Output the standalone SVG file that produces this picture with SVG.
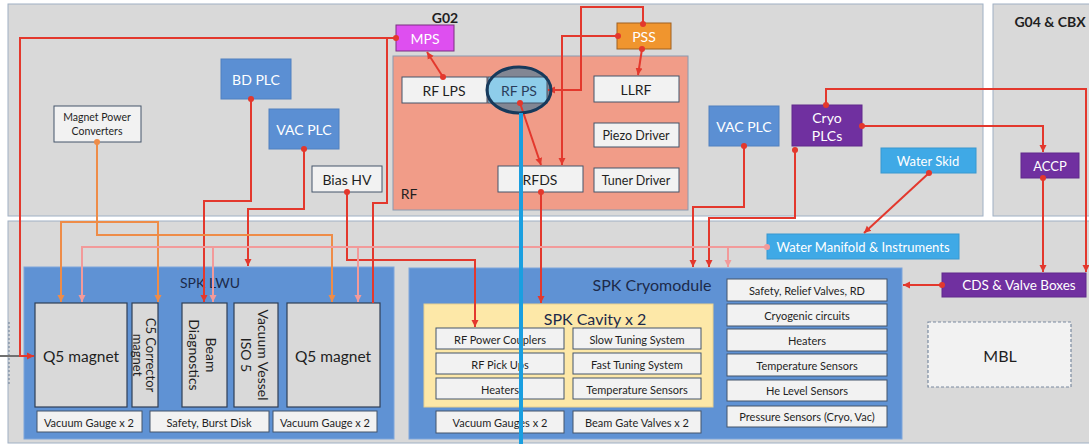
<svg xmlns="http://www.w3.org/2000/svg" width="1089" height="444" viewBox="0 0 1089 444">
<style>
text{font-family:Lato,"Open Sans","Liberation Sans",sans-serif;text-anchor:middle;dominant-baseline:central}
.region{fill:#d9d9d9;stroke:#9fb0c4;stroke-width:1}
.wbox{fill:#f2f2f2;stroke:#44546a;stroke-width:1}
.blue{fill:#5b8fd3;stroke:#5080c0;stroke-width:1}
.lblue{fill:#3fa9e6;stroke:#3898d0;stroke-width:1}
.purple{fill:#7030a0;stroke:#60288c;stroke-width:1}
.gbox{fill:#d9d9d9;stroke:#2f3f55;stroke-width:1.2}
.cont{fill:#5f92d4;stroke:#7ea6dc;stroke-width:1}
.wt{fill:#ffffff}
.dk{fill:#1f1f1f}
.nv{fill:#1c2a4a}
.red{fill:none;stroke:#e3382d;stroke-width:2}
.org{fill:none;stroke:#ee8c48;stroke-width:2}
.pnk{fill:none;stroke:#f29a9a;stroke-width:2}
</style>
<defs>
<marker id="arR" markerUnits="userSpaceOnUse" markerWidth="8" markerHeight="8" refX="7" refY="4" orient="auto"><path d="M0,0.5 L7,4 L0,7.5 z" fill="#e3382d"/></marker>
<marker id="arO" markerUnits="userSpaceOnUse" markerWidth="8" markerHeight="8" refX="7" refY="4" orient="auto"><path d="M0,0.5 L7,4 L0,7.5 z" fill="#ee8c48"/></marker>
<marker id="arP" markerUnits="userSpaceOnUse" markerWidth="8" markerHeight="8" refX="7" refY="4" orient="auto"><path d="M0,0.5 L7,4 L0,7.5 z" fill="#f29a9a"/></marker>
<marker id="dR" markerUnits="userSpaceOnUse" markerWidth="8" markerHeight="8" refX="4" refY="4"><circle cx="4" cy="4" r="3" fill="#e3382d"/></marker>
<marker id="dO" markerUnits="userSpaceOnUse" markerWidth="8" markerHeight="8" refX="4" refY="4"><circle cx="4" cy="4" r="3" fill="#ee8c48"/></marker>
<marker id="dP" markerUnits="userSpaceOnUse" markerWidth="8" markerHeight="8" refX="4" refY="4"><circle cx="4" cy="4" r="3" fill="#f29a9a"/></marker>
</defs>
<rect x="0" y="0" width="1089" height="444" fill="#ffffff"/>
<g id="regions">
<rect class="region" x="8" y="4" width="975" height="212"/>
<rect class="region" x="993" y="4" width="100" height="212"/>
<rect class="region" x="8" y="221" width="1085" height="222"/>
<line x1="9" y1="322" x2="9" y2="385" stroke="#7a8aa0" stroke-width="1.2" stroke-dasharray="2,2"/>
<line x1="0" y1="356" x2="19" y2="356" stroke="#707070" stroke-width="2"/>
<text x="445" y="17" class="dk" font-size="14" font-weight="bold">G02</text>
<text x="1050" y="21" class="dk" font-size="14" font-weight="bold">G04 &amp; CBX</text>
</g>
<g id="rf-area">
<rect x="393" y="56" width="295" height="154" fill="#f19c88" stroke="#8a9ab0" stroke-width="1"/>
<text x="409" y="193" class="dk" font-size="14">RF</text>
</g>
<g id="mps"><rect x="396" y="25" width="58" height="26" fill="#de4ff0" stroke="#7a3080" stroke-width="1"/><text x="425" y="38" class="wt" font-size="14">MPS</text></g>
<g id="pss"><rect x="617" y="23" width="54" height="26" fill="#f0952e" stroke="#a06020" stroke-width="1"/><text x="644" y="36" class="wt" font-size="14">PSS</text></g>
<g id="rf-lps"><rect class="wbox" x="402" y="77" width="85" height="26"/><text x="444" y="90" class="dk" font-size="14">RF LPS</text></g>
<g id="rf-ps">
<ellipse cx="519" cy="90" rx="32" ry="23" fill="#6f8395" opacity="0.85"/>
<rect x="488" y="77" width="59" height="26" fill="#8ecdea" stroke="#44546a" stroke-width="1"/>
<text x="519" y="90" fill="#2a3c5a" font-size="14">RF PS</text>
</g>
<g id="llrf"><rect class="wbox" x="594" y="76" width="85" height="26"/><text x="636" y="89" class="dk" font-size="14">LLRF</text></g>
<g id="piezo"><rect class="wbox" x="594" y="123" width="85" height="24"/><text x="636" y="135" class="dk" font-size="12.5">Piezo Driver</text></g>
<g id="tuner"><rect class="wbox" x="594" y="168" width="85" height="24"/><text x="636" y="180" class="dk" font-size="12.5">Tuner Driver</text></g>
<g id="rfds"><rect class="wbox" x="498" y="166" width="85" height="26"/><text x="540" y="179" class="dk" font-size="14">RFDS</text></g>
<g id="mpc"><rect class="wbox" x="54" y="106" width="87" height="36"/><text x="97" y="117" class="dk" font-size="10.5">Magnet Power</text><text x="97" y="131" class="dk" font-size="10.5">Converters</text></g>
<g id="bd-plc"><rect class="blue" x="221" y="59" width="70" height="40"/><text x="256" y="79" class="wt" font-size="14">BD PLC</text></g>
<g id="vac-plc-1"><rect class="blue" x="269" y="109" width="70" height="40"/><text x="304" y="129" class="wt" font-size="14">VAC PLC</text></g>
<g id="bias-hv"><rect class="wbox" x="312" y="166" width="70" height="26"/><text x="347" y="179" class="dk" font-size="14">Bias HV</text></g>
<g id="vac-plc-2"><rect class="blue" x="709" y="106" width="70" height="40"/><text x="744" y="126" class="wt" font-size="14">VAC PLC</text></g>
<g id="cryo-plcs"><rect class="purple" x="792" y="105" width="70" height="41"/><text x="827" y="117" class="wt" font-size="14">Cryo</text><text x="827" y="135" class="wt" font-size="14">PLCs</text></g>
<g id="water-skid"><rect class="lblue" x="881" y="148" width="95" height="25"/><text x="928" y="161" class="wt" font-size="13">Water Skid</text></g>
<g id="accp"><rect class="purple" x="1021" y="153" width="58" height="25"/><text x="1050" y="166" class="wt" font-size="13">ACCP</text></g>
<g id="water-manifold"><rect class="lblue" x="767" y="234" width="192" height="25"/><text x="863" y="247" class="wt" font-size="13">Water Manifold &amp; Instruments</text></g>
<g id="cds"><rect class="purple" x="942" y="273" width="144" height="24"/><text x="1019" y="285" class="wt" font-size="13.5">CDS &amp; Valve Boxes</text></g>
<g id="mbl"><rect x="928" y="322" width="143" height="65" fill="#f2f2f2" stroke="#7a8aa0" stroke-width="1.2" stroke-dasharray="3,2"/><text x="1000" y="355" class="dk" font-size="16">MBL</text></g>
<g id="spk-lwu">
<rect class="cont" x="24" y="267" width="370" height="172"/>
<text x="210" y="282" class="nv" font-size="14">SPK LWU</text>
</g>
<g id="q5-left"><rect class="gbox" x="35" y="303" width="92" height="104"/><text x="81" y="356" class="dk" font-size="15.5">Q5 magnet</text></g>
<g id="c5"><rect class="gbox" x="132" y="303" width="26" height="104"/><text transform="translate(145,355) rotate(90)" class="dk" font-size="13"><tspan x="0" y="-6">C5 Corrector</tspan><tspan x="0" y="7">magnet</tspan></text></g>
<g id="beam-diag"><rect class="gbox" x="182" y="303" width="45" height="104"/><text transform="translate(204,355) rotate(90)" class="dk" font-size="14"><tspan x="0" y="-8">Beam</tspan><tspan x="0" y="9">Diagnostics</tspan></text></g>
<g id="vac-vessel"><rect class="gbox" x="234" y="303" width="44" height="104"/><text transform="translate(256,355) rotate(90)" class="dk" font-size="14"><tspan x="0" y="-8">Vacuum Vessel</tspan><tspan x="0" y="9">ISO 5</tspan></text></g>
<g id="q5-right"><rect class="gbox" x="287" y="303" width="93" height="104"/><text x="333" y="356" class="dk" font-size="15.5">Q5 magnet</text></g>
<g id="lwu-vg1"><rect class="wbox" x="37" y="411" width="105" height="21"/><text x="89" y="422" class="dk" font-size="11">Vacuum Gauge x 2</text></g>
<g id="lwu-safety"><rect class="wbox" x="150" y="411" width="119" height="21"/><text x="209" y="422" class="dk" font-size="11">Safety, Burst Disk</text></g>
<g id="lwu-vg2"><rect class="wbox" x="273" y="411" width="104" height="21"/><text x="325" y="422" class="dk" font-size="11">Vacuum Gauge x 2</text></g>
<g id="spk-cryomodule">
<rect class="cont" x="409" y="268" width="493" height="171"/>
<text x="652" y="284" class="nv" font-size="16">SPK Cryomodule</text>
</g>
<g id="spk-cavity">
<rect x="424" y="304" width="289" height="103" fill="#fde8a8" stroke="#e8d090" stroke-width="1"/>
<text x="595" y="318" class="nv" font-size="16">SPK Cavity x 2</text>
</g>
<g id="cav-rfpc"><rect class="wbox" x="436" y="328" width="128" height="21"/><text x="500" y="339" class="dk" font-size="11">RF Power Couplers</text></g>
<g id="cav-slow"><rect class="wbox" x="573" y="328" width="128" height="21"/><text x="637" y="339" class="dk" font-size="11">Slow Tuning System</text></g>
<g id="cav-rfpu"><rect class="wbox" x="436" y="353" width="128" height="21"/><text x="500" y="364" class="dk" font-size="11">RF Pick Ups</text></g>
<g id="cav-fast"><rect class="wbox" x="573" y="353" width="128" height="21"/><text x="637" y="364" class="dk" font-size="11">Fast Tuning System</text></g>
<g id="cav-heat"><rect class="wbox" x="436" y="378" width="128" height="21"/><text x="500" y="389" class="dk" font-size="11">Heaters</text></g>
<g id="cav-temp"><rect class="wbox" x="573" y="378" width="128" height="21"/><text x="637" y="389" class="dk" font-size="11">Temperature Sensors</text></g>
<g id="cm-vg"><rect class="wbox" x="436" y="411" width="128" height="22"/><text x="500" y="422" class="dk" font-size="11">Vacuum Gauges x 2</text></g>
<g id="cm-bgv"><rect class="wbox" x="573" y="411" width="128" height="22"/><text x="637" y="422" class="dk" font-size="11">Beam Gate Valves x 2</text></g>
<g id="cm-safety"><rect class="wbox" x="727" y="279" width="160" height="22"/><text x="807" y="290" class="dk" font-size="11">Safety, Relief Valves, RD</text></g>
<g id="cm-cryo"><rect class="wbox" x="727" y="304" width="160" height="22"/><text x="807" y="315" class="dk" font-size="11">Cryogenic circuits</text></g>
<g id="cm-heat"><rect class="wbox" x="727" y="329" width="160" height="22"/><text x="807" y="340" class="dk" font-size="11">Heaters</text></g>
<g id="cm-temp"><rect class="wbox" x="727" y="354" width="160" height="22"/><text x="807" y="365" class="dk" font-size="11">Temperature Sensors</text></g>
<g id="cm-he"><rect class="wbox" x="727" y="380" width="160" height="21"/><text x="807" y="390" class="dk" font-size="11">He Level Sensors</text></g>
<g id="cm-press"><rect class="wbox" x="727" y="406" width="160" height="21"/><text x="807" y="416" class="dk" font-size="11">Pressure Sensors (Cryo, Vac)</text></g>
<g id="connectors">
<path class="red" d="M396,38 H20 V356 H34" marker-start="url(#dR)" marker-end="url(#arR)"/>
<path class="red" d="M387,38 V203 H373 V303"/>
<path class="red" d="M251,99 V201 H204 V302" marker-start="url(#dR)" marker-end="url(#arR)"/>
<path class="red" d="M304,149 V209 H248 V266" marker-start="url(#dR)" marker-end="url(#arR)"/>
<path class="red" d="M347,192 V260 H475 V327" marker-start="url(#dR)" marker-end="url(#arR)"/>
<path class="red" d="M443,77 L427,52" marker-start="url(#dR)" marker-end="url(#arR)"/>
<path class="red" d="M643,24 V7 H581 V90 H548" marker-start="url(#dR)" marker-end="url(#arR)"/>
<path class="red" d="M618,36 H562 V165" marker-start="url(#dR)" marker-end="url(#arR)"/>
<path class="red" d="M642,49 L638,75" marker-start="url(#dR)" marker-end="url(#arR)"/>
<path class="red" d="M520,103 L541,165" marker-start="url(#dR)" marker-end="url(#arR)"/>
<path class="red" d="M541,192 V303" marker-start="url(#dR)" marker-end="url(#arR)"/>
<path class="red" d="M744,146 V207 H693 V267" marker-start="url(#dR)" marker-end="url(#arR)"/>
<path class="red" d="M795,150 V218 H709 V267" marker-start="url(#dR)" marker-end="url(#arR)"/>
<path class="red" d="M826,105 V89 H1086 V272" marker-start="url(#dR)" marker-end="url(#arR)"/>
<path class="red" d="M862,126 H1043 V152" marker-start="url(#dR)" marker-end="url(#arR)"/>
<path class="red" d="M1043,178 V272" marker-start="url(#dR)" marker-end="url(#arR)"/>
<path class="red" d="M942,285 H903" marker-start="url(#dR)" marker-end="url(#arR)"/>
<path class="red" d="M929,173 L864,233" marker-start="url(#dR)" marker-end="url(#arR)"/>
<path class="org" d="M97,142 V235 H332 V302" marker-start="url(#dO)" marker-end="url(#arO)"/>
<path class="org" d="M97,222 H61 V302" marker-end="url(#arO)"/>
<path class="org" d="M97,222 H158 V302" marker-end="url(#arO)"/>
<path class="pnk" d="M767,247 H82 V302" marker-start="url(#dP)" marker-end="url(#arP)"/>
<path class="pnk" d="M213,247 V302" marker-end="url(#arP)"/>
<path class="pnk" d="M358,247 V302" marker-end="url(#arP)"/>
<path class="pnk" d="M728,247 V267" marker-end="url(#arP)"/>
</g>
<g id="highlight">
<ellipse cx="519" cy="90" rx="32" ry="23" fill="none" stroke="#173a5c" stroke-width="3"/>
<line x1="521" y1="113" x2="521" y2="444" stroke="#1a9fe0" stroke-width="4"/>
</g>
</svg>
